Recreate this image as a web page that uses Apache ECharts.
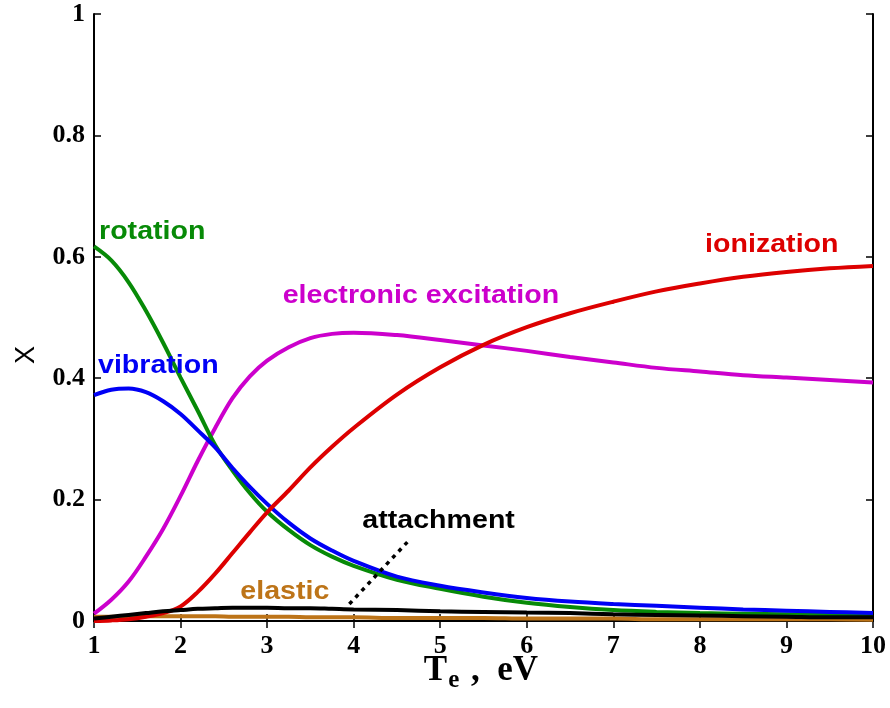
<!DOCTYPE html>
<html>
<head>
<meta charset="utf-8">
<script src="https://cdn.jsdelivr.net/npm/echarts@6/dist/echarts.min.js"></script>
<style>
  html, body { margin: 0; padding: 0; background: #fff; }
  #chart { width: 890px; height: 708px; }
</style>
</head>
<body>
<div id="chart"></div>
<script>
// Electron temperature grid (eV)
const te = [1, 1.2, 1.4, 1.6, 1.8, 2, 2.2, 2.4, 2.6, 2.8, 3, 3.25, 3.5, 3.75, 4,
            4.5, 5, 5.5, 6, 6.5, 7, 7.5, 8, 8.5, 9, 9.5, 10];

// Fraction of electron energy going into each loss channel
const rotation = [0.617, 0.594, 0.558, 0.511, 0.458, 0.401, 0.346, 0.290, 0.248, 0.211, 0.180,
                  0.150, 0.125, 0.106, 0.091, 0.068, 0.053, 0.040, 0.030, 0.023, 0.018,
                  0.015, 0.013, 0.012, 0.011, 0.010, 0.009];
const vibration = [0.372, 0.381, 0.383, 0.377, 0.362, 0.341, 0.314, 0.286, 0.252, 0.221, 0.193,
                   0.162, 0.136, 0.116, 0.099, 0.073, 0.058, 0.047, 0.038, 0.032, 0.028,
                   0.025, 0.022, 0.019, 0.017, 0.015, 0.013];
const excitation = [0.012, 0.035, 0.065, 0.106, 0.152, 0.206, 0.264, 0.318, 0.367, 0.403, 0.429,
                    0.451, 0.466, 0.473, 0.475, 0.471, 0.463, 0.454, 0.445, 0.435, 0.426,
                    0.417, 0.411, 0.405, 0.401, 0.397, 0.393];
const ionization = [0.000, 0.001, 0.003, 0.007, 0.013, 0.024, 0.048, 0.078, 0.112, 0.146, 0.179,
                    0.215, 0.253, 0.287, 0.318, 0.373, 0.418, 0.455, 0.484, 0.507, 0.526,
                    0.543, 0.556, 0.567, 0.575, 0.581, 0.585];
const attachment = [0.004, 0.007, 0.010, 0.013, 0.016, 0.018, 0.020, 0.021, 0.022, 0.022, 0.022,
                    0.021, 0.021, 0.020, 0.019, 0.018, 0.016, 0.015, 0.014, 0.013, 0.011,
                    0.010, 0.009, 0.008, 0.007, 0.006, 0.006];
const elastic = [0.007, 0.007, 0.008, 0.008, 0.008, 0.008, 0.008, 0.008, 0.007, 0.007, 0.007,
                 0.007, 0.006, 0.006, 0.006, 0.005, 0.005, 0.005, 0.004, 0.004, 0.004,
                 0.003, 0.003, 0.003, 0.003, 0.003, 0.002];

// Dotted pointer from the "attachment" caption down to its curve
const pointerX = [3.95, 4.62];
const pointerY = [0.028, 0.130];

// Axis ticks
const xTicks = [1, 2, 3, 4, 5, 6, 7, 8, 9, 10];
const yTicks = [0, 0.2, 0.4, 0.6, 0.8, 1];

const COLORS = {
  rotation: '#078a07',
  vibration: '#0000f5',
  excitation: '#cc00cc',
  ionization: '#dd0000',
  attachment: '#000000',
  elastic: '#bd7418'
};

// Curve captions: [text, T_e, X, color key]
const captions = [
  ['rotation', 1.058, 0.641, 'rotation'],
  ['vibration', 1.046, 0.420, 'vibration'],
  ['electronic excitation', 3.18, 0.535, 'excitation'],
  ['ionization', 8.06, 0.619, 'ionization'],
  ['attachment', 4.10, 0.165, 'attachment'],
  ['elastic', 2.69, 0.048, 'elastic']
];

const pairs = ys => te.map((t, i) => [t, ys[i]]);

function curve(name, ys, color, z) {
  return {
    name, type: 'line', data: pairs(ys), smooth: 0.35, showSymbol: false, symbol: 'none',
    lineStyle: { color, width: 4 }, z, clip: true, animation: false
  };
}

const chart = echarts.init(document.getElementById('chart'), null, { renderer: 'canvas' });

const tickFont = { fontFamily: 'Liberation Serif', fontWeight: 'bold', fontSize: 26, color: '#000' };
const frameLine = { show: true, lineStyle: { color: '#000', width: 2 } };
const innerTick = { show: true, inside: true, length: 7, lineStyle: { color: '#000', width: 1.5 } };

chart.setOption({
  animation: false,
  backgroundColor: '#fff',
  grid: { left: 94, right: 17, top: 14, bottom: 87, containLabel: false },
  xAxis: [
    {
      type: 'value', min: 1, max: 10, interval: 1, position: 'bottom',
      axisLine: frameLine, axisTick: innerTick, splitLine: { show: false },
      axisLabel: Object.assign({ margin: 12, customValues: xTicks }, tickFont)
    },
    {
      type: 'value', min: 1, max: 10, interval: 1, position: 'top',
      axisLine: frameLine, axisTick: innerTick, splitLine: { show: false },
      axisLabel: { show: false }
    }
  ],
  yAxis: [
    {
      type: 'value', min: 0, max: 1, interval: 0.2, position: 'left',
      axisLine: frameLine, axisTick: innerTick, splitLine: { show: false },
      axisLabel: Object.assign({ margin: 9, formatter: v => String(+v.toFixed(1)) }, tickFont)
    },
    {
      type: 'value', min: 0, max: 1, interval: 0.2, position: 'right',
      axisLine: frameLine, axisTick: innerTick, splitLine: { show: false },
      axisLabel: { show: false }
    }
  ],
  series: [
    curve('elastic', elastic, COLORS.elastic, 2),
    curve('electronic excitation', excitation, COLORS.excitation, 3),
    curve('rotation', rotation, COLORS.rotation, 4),
    curve('vibration', vibration, COLORS.vibration, 5),
    curve('ionization', ionization, COLORS.ionization, 6),
    curve('attachment', attachment, COLORS.attachment, 7),
    {
      name: 'pointer', type: 'line', data: pointerX.map((x, i) => [x, pointerY[i]]),
      showSymbol: false, symbol: 'none', z: 8,
      lineStyle: { color: '#000', width: 3.5, type: [4, 5] }
    }
  ]
});

// Captions and axis titles
const graphics = captions.map(([text, x, y, key]) => {
  const [px, py] = chart.convertToPixel({ gridIndex: 0 }, [x, y]);
  return {
    type: 'text', x: px, y: py, scaleX: 1.1, z: 20,
    style: {
      text, fill: COLORS[key], textAlign: 'left', textVerticalAlign: 'middle',
      font: 'bold 26px "Liberation Sans", Arial, sans-serif'
    }
  };
});

graphics.push({
  type: 'text', x: 27, y: 355, rotation: Math.PI / 2, z: 20,
  style: {
    text: 'X', fill: '#000', textAlign: 'center', textVerticalAlign: 'middle',
    font: '27px "Liberation Sans", Arial, sans-serif'
  }
});

graphics.push({
  type: 'text', x: 481, y: 671, z: 20,
  style: {
    text: '{t|T}{s|e}{t| ,  eV}', textAlign: 'center', textVerticalAlign: 'middle',
    rich: {
      t: { fontFamily: 'Liberation Serif', fontWeight: 'bold', fontSize: 35, fill: '#000', height: 40 },
      s: { fontFamily: 'Liberation Serif', fontWeight: 'bold', fontSize: 25, fill: '#000', padding: [20, 3, 0, 1], height: 40 }
    }
  }
});

chart.setOption({ graphic: graphics });
</script>
</body>
</html>
